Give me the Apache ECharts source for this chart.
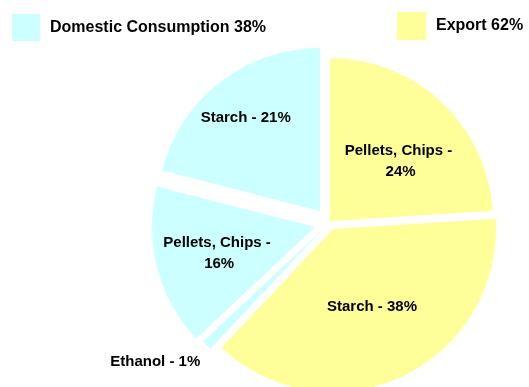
<!DOCTYPE html>
<html>
<head>
<meta charset="utf-8">
<script src="https://cdn.jsdelivr.net/npm/echarts@6/dist/echarts.min.js"></script>
<style>
html,body{margin:0;padding:0;background:#fff;}
#c{width:529px;height:387px;}
</style>
</head>
<body>
<div id="c"></div>
<script>
// ---- data ----
const categories = ['Pellets, Chips', 'Starch', 'Ethanol', 'Pellets, Chips', 'Starch'];
const values = [24, 38, 1, 16, 21];
const groups = ['Export', 'Export', 'Domestic Consumption', 'Domestic Consumption', 'Domestic Consumption'];
const groupNames = ['Domestic Consumption', 'Export'];

// ---- layout / style ----
const groupColors = { 'Domestic Consumption': '#CCFFFF', 'Export': '#FFFF99' };
const sliceCenters = [[330, 221], [333, 229], [322, 230], [315, 227], [320, 211]];
const labelOffsets = [[12.7, 1.8], [3, 1], [-107, 72], [-14, 5], [-22.5, -26.5]];
const R = 163;
const FONT = '"Liberation Sans", Arial, sans-serif';

const groupTotals = groupNames.map(g => values.reduce((s, v, i) => s + (groups[i] === g ? v : 0), 0));
const legendNames = groupNames.map((g, i) => g + ' ' + groupTotals[i] + '%');

const series = categories.map((_, k) => ({
  type: 'pie',
  center: sliceCenters[k],
  radius: R,
  startAngle: 90,
  clockwise: true,
  avoidLabelOverlap: false,
  legendHoverLink: false,
  animation: false,
  silent: true,
  labelLine: { show: false },
  data: categories.map((c, i) => ({
    name: c + '#' + i,
    value: values[i],
    itemStyle: { color: i === k ? groupColors[groups[i]] : 'rgba(0,0,0,0)', borderWidth: 0 },
    label: i === k ? {
      show: true,
      position: 'inside',
      offset: labelOffsets[k],
      formatter: c + ' - ' + values[i] + '%',
      color: '#000',
      fontFamily: FONT,
      fontWeight: 'bold',
      fontSize: 15,
      lineHeight: 21,
      width: 130,
      overflow: 'break',
      align: 'center'
    } : { show: false }
  }))
}));

// legend carrier series (invisible, radius 0)
series.push({
  type: 'pie',
  radius: 0,
  center: [-50, -50],
  silent: true,
  animation: false,
  label: { show: false },
  labelLine: { show: false },
  data: groupNames.map((g, i) => ({ name: legendNames[i], value: groupTotals[i], itemStyle: { color: groupColors[g] } }))
});

const legendText = { color: '#000', fontFamily: FONT, fontWeight: 'bold', fontSize: 16, padding: [6, 0, 0, 5] };

const chart = echarts.init(document.getElementById('c'), null, { renderer: 'canvas' });
chart.setOption({
  backgroundColor: '#fff',
  animation: false,
  legend: [
    { left: 7, top: 9, itemWidth: 28, itemHeight: 27, icon: 'rect', selectedMode: false,
      data: [legendNames[0]], textStyle: legendText },
    { left: 392, top: 7, itemWidth: 29, itemHeight: 28, icon: 'rect', selectedMode: false,
      data: [legendNames[1]], textStyle: legendText }
  ],
  series: series
});
</script>
</body>
</html>
